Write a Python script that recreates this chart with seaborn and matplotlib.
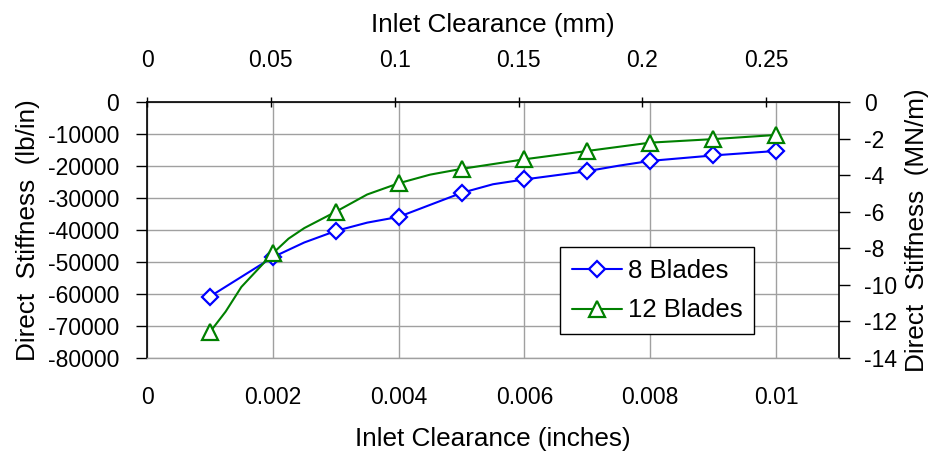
import matplotlib
matplotlib.use("Agg")
import matplotlib.pyplot as plt
import seaborn as sns
import pandas as pd
import numpy as np

# ---- data ----
x8 = [0.001, 0.002, 0.0025, 0.003, 0.0035, 0.004, 0.005, 0.0055, 0.006, 0.007, 0.0075, 0.008, 0.009, 0.010]
y8 = [-60800, -48500, -43900, -40300, -37700, -35900, -28400, -25700, -24200, -21600, -19900, -18400, -16700, -15300]
x12 = [0.001, 0.00125, 0.0015, 0.002, 0.00225, 0.0025, 0.003, 0.0035, 0.004, 0.0045, 0.005, 0.006, 0.007, 0.008, 0.009, 0.010]
y12 = [-71900, -65500, -57800, -47300, -42700, -39400, -34300, -28900, -25400, -22700, -20900, -17900, -15300, -12700, -11600, -10300]
series_names = ["8 Blades", "12 Blades"]
x_ticks_in = [0, 0.002, 0.004, 0.006, 0.008, 0.01]
x_ticklabels_in = ["0", "0.002", "0.004", "0.006", "0.008", "0.01"]
y_ticks_lb = [0, -10000, -20000, -30000, -40000, -50000, -60000, -70000, -80000]
x_ticks_mm = [0, 0.05, 0.1, 0.15, 0.2, 0.25]
x_ticklabels_mm = ["0", "0.05", "0.1", "0.15", "0.2", "0.25"]
y_ticks_mn = [0, -2, -4, -6, -8, -10, -12, -14]

IN2MM = 25.4
LBIN2MNM = 175.1268e-6

sns.set_theme(style="white")
plt.rcParams["font.family"] = ["Liberation Sans", "DejaVu Sans"]
plt.rcParams["axes.unicode_minus"] = False
plt.rcParams["text.color"] = "black"
plt.rcParams["axes.labelcolor"] = "black"

df = pd.concat([
    pd.DataFrame({"x": x8, "y": y8, "s": series_names[0]}),
    pd.DataFrame({"x": x12, "y": y12, "s": series_names[1]}),
], ignore_index=True)

def mark_idx(xs):
    return [i for i, v in enumerate(xs) if abs(round(v * 1000) - v * 1000) < 1e-6]

fig = plt.figure(figsize=(9.36, 4.55), dpi=100)
ax = fig.add_axes([147 / 936, 1 - 358 / 455, (839 - 147) / 936, (358 - 102) / 455])

fs = 16.5
lfs = 18.8
sns.lineplot(data=df[df.s == series_names[0]], x="x", y="y", ax=ax, color="#0000ff",
             marker="D", markersize=8, markerfacecolor="white", markeredgecolor="#0000ff",
             markeredgewidth=1.6, markevery=mark_idx(x8), linewidth=1.5,
             estimator=None, sort=False, label=series_names[0])
sns.lineplot(data=df[df.s == series_names[1]], x="x", y="y", ax=ax, color="#008000",
             marker="^", markersize=11, markerfacecolor="white", markeredgecolor="#008000",
             markeredgewidth=1.6, markevery=mark_idx(x12), linewidth=1.5,
             estimator=None, sort=False, label=series_names[1])

ax.set_xlim(0, 0.011)
ax.set_ylim(-80000, 0)
ax.set_xticks(x_ticks_in)
ax.set_xticklabels(x_ticklabels_in)
ax.set_yticks(y_ticks_lb)
ax.set_yticklabels([str(v) for v in y_ticks_lb])
ax.grid(True, color="#a0a0a0", linewidth=1.0)
ax.set_axisbelow(True)
ax.tick_params(axis="x", length=0, pad=20, labelsize=fs, colors="black")
ax.tick_params(axis="y", left=True, length=8, width=1, pad=12, labelsize=fs, colors="black", direction="out")
ax.set_xlabel("Inlet Clearance (inches)", fontsize=lfs, labelpad=13)
ax.set_ylabel("Direct  Stiffness  (lb/in)", fontsize=lfs, labelpad=6)
for side in ["left", "top", "right"]:
    ax.spines[side].set_color("black")
    ax.spines[side].set_linewidth(1.2)
ax.spines["bottom"].set_color("#a0a0a0")
ax.spines["bottom"].set_linewidth(1.0)

leg = ax.legend(loc="upper left", bbox_to_anchor=((560 - 147) / 692, 1 - (247 - 102) / 256),
                fontsize=18.5, frameon=True, fancybox=False, edgecolor="black",
                framealpha=1, borderpad=0.45, handlelength=1.95, labelspacing=0.62,
                handletextpad=0.25, borderaxespad=0)
leg.get_frame().set_linewidth(1.0)

# top axis (mm)
axt = ax.twiny()
axt.set_xlim(0, 0.011 * IN2MM)
axt.set_xticks(x_ticks_mm)
axt.set_xticklabels(x_ticklabels_mm)
axt.tick_params(axis="x", top=True, length=7, width=1, direction="inout", pad=18, labelsize=fs, colors="black")
axt.set_xlabel("Inlet Clearance (mm)", fontsize=lfs, labelpad=12)
for side in axt.spines:
    axt.spines[side].set_visible(False)

# right axis (MN/m)
axr = ax.twinx()
axr.set_ylim(-80000 * LBIN2MNM, 0)
axr.set_yticks(y_ticks_mn)
axr.set_yticklabels([str(v) for v in y_ticks_mn])
axr.tick_params(axis="y", right=True, length=8, width=1, direction="out", pad=10, labelsize=fs, colors="black")
axr.set_ylabel("Direct  Stiffness  (MN/m)", fontsize=lfs, labelpad=6)
for side in axr.spines:
    axr.spines[side].set_visible(False)

fig.savefig("out.png", dpi=100, facecolor="white")
